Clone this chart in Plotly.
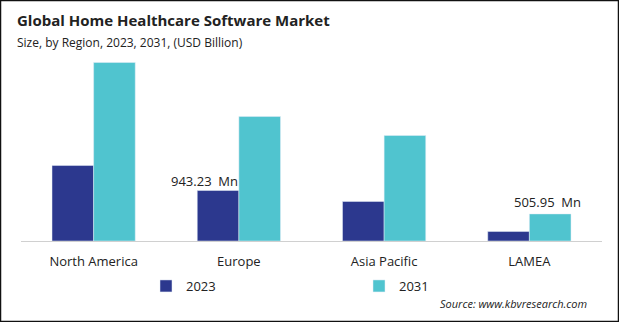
import plotly.graph_objects as go

regions = ["North America", "Europe", "Asia Pacific", "LAMEA"]
val_2023 = [1410, 943.23, 738, 177]
val_2031 = [3334, 2325, 1971, 505.95]
label_2023 = {"Europe": "943.23  Mn"}
label_2031 = {"LAMEA": "505.95  Mn"}

W, H = 619, 322
ml, mr, mt, mb = 21, 17, 55, 81
pw = W - ml - mr
ph = H - mt - mb

C23 = "#2C388E"
C31 = "#50C4CF"

fig = go.Figure()
fig.add_trace(go.Bar(name="2023", x=regions, y=val_2023, marker_color=C23))
fig.add_trace(go.Bar(name="2031", x=regions, y=val_2031, marker_color=C31))

annots = []
for i, r in enumerate(regions):
    if r in label_2023:
        annots.append(dict(x=r, y=val_2023[i], text=label_2023[r], xref="x", yref="y",
                           showarrow=False, yanchor="bottom", xshift=-34, yshift=-1,
                           font=dict(size=13, color="#222")))
    if r in label_2031:
        annots.append(dict(x=r, y=val_2031[i], text=label_2031[r], xref="x", yref="y",
                           showarrow=False, yanchor="bottom", xshift=18, yshift=1,
                           font=dict(size=13, color="#222")))

annots += [
    dict(x=-(ml - 15) / pw, y=1 + (mt - 20) / ph, xref="paper", yref="paper",
         text="<b>Global Home Healthcare Software Market</b>", showarrow=False,
         xanchor="left", yanchor="middle", font=dict(size=15, color="#222")),
    dict(x=-(ml - 15) / pw, y=1 + (mt - 42) / ph, xref="paper", yref="paper",
         text="Size, by Region, 2023, 2031, (USD Billion)", showarrow=False,
         xanchor="left", yanchor="middle", font=dict(size=12, color="#222")),
    dict(x=(589 - ml) / pw, y=-(303 - (mt + ph)) / ph, xref="paper", yref="paper",
         text="<i>Source: www.kbvresearch.com</i>", showarrow=False,
         xanchor="right", yanchor="middle", font=dict(size=11, color="#222")),
]

fig.update_layout(
    width=W, height=H,
    margin=dict(l=ml, r=mr, t=mt, b=mb, autoexpand=False),
    paper_bgcolor="white", plot_bgcolor="white",
    font=dict(family="Open Sans", color="#222"),
    barmode="group", bargap=0.427, bargroupgap=0,
    showlegend=True,
    legend=dict(orientation="h", x=(146 - ml) / pw, xanchor="left",
                y=-(271 - (mt + ph)) / ph, yanchor="top",
                entrywidth=168, entrywidthmode="pixels", itemwidth=30,
                font=dict(size=13, color="#222"), bgcolor="rgba(0,0,0,0)"),
    xaxis=dict(showline=True, linecolor="#D0D0D0", linewidth=1, ticks="",
               ticklabelstandoff=8,
               tickfont=dict(size=13, color="#222"), showgrid=False),
    yaxis=dict(range=[0, ph * 18.68], visible=False, showgrid=False),
    annotations=annots,
    shapes=[dict(type="rect", xref="paper", yref="paper",
                 x0=-(ml - 0.5) / pw, x1=1 + (mr - 0.5) / pw,
                 y0=-(mb - 0.5) / ph, y1=1 + (mt - 0.5) / ph,
                 line=dict(color="#111", width=1.5), fillcolor="rgba(0,0,0,0)")],
)

fig.write_html("out.html")
